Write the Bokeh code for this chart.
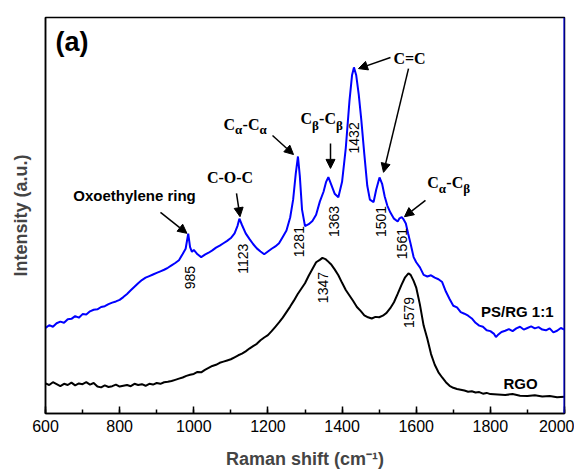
import math
from bokeh.plotting import figure
from bokeh.models import (Range1d, SingleIntervalTicker, FixedTicker, Label, Arrow,
                          NormalHead, Span, ColumnDataSource)
from bokeh.embed import file_html
from bokeh.resources import INLINE

# ---------------- data ----------------
ps_rg_shift = [600, 610, 620, 630, 640, 650, 660, 670, 680, 690, 700, 710, 720, 730, 740,
               750, 760, 770, 780, 790, 800, 810, 820, 830, 840, 850, 860, 870, 880, 890,
               900, 910, 920, 930, 940, 950, 960, 970, 978, 985, 990, 995, 1000, 1010, 1020,
               1030, 1040, 1050, 1060, 1070, 1080, 1090, 1100, 1110, 1118, 1123, 1130, 1140,
               1150, 1160, 1170, 1180, 1190, 1200, 1210, 1220, 1230, 1240, 1250, 1260, 1268,
               1275, 1281, 1286, 1292, 1300, 1310, 1320, 1330, 1340, 1350, 1357, 1363, 1370,
               1380, 1390, 1400, 1410, 1420, 1427, 1432, 1438, 1445, 1452, 1460, 1468, 1475,
               1485, 1492, 1501, 1508, 1515, 1522, 1530, 1540, 1550, 1555, 1561, 1566, 1572,
               1578, 1585, 1593, 1600, 1610, 1620, 1630, 1640, 1650, 1660, 1670, 1680, 1690,
               1700, 1710, 1720, 1730, 1740, 1750, 1760, 1770, 1780, 1790, 1800, 1810, 1815,
               1820, 1830, 1840, 1850, 1860, 1870, 1880, 1890, 1900, 1910, 1920, 1930, 1940,
               1950, 1960, 1970, 1980, 1990, 2000]
ps_rg_intensity = [21.6, 22.3, 21.9, 22.8, 23.2, 22.9, 23.8, 23.9, 24.6, 24.2, 25.1, 25.0, 25.8,
                   26.2, 26.3, 26.9, 27.1, 27.6, 28.0, 28.3, 28.7, 29.4, 30.2, 31.1, 32.0, 32.9,
                   33.7, 34.3, 34.7, 35.1, 35.5, 35.9, 36.3, 36.8, 37.4, 38.0, 38.7, 40.3, 41.6,
                   45.4, 42.0, 40.8, 41.3, 40.2, 39.5, 40.1, 40.6, 41.2, 41.9, 42.4, 43.0, 43.6,
                   44.3, 45.5, 47.4, 49.2, 47.6, 45.5, 44.1, 42.8, 41.7, 40.9, 40.2, 40.9, 41.6,
                   42.2, 43.0, 44.6, 46.2, 49.5, 54.0, 60.5, 64.9, 60.0, 51.5, 47.3, 47.8, 48.6,
                   50.2, 53.5, 56.0, 58.5, 59.7, 58.0, 55.5, 54.6, 58.5, 67.0, 79.0, 85.5, 87.4,
                   85.5, 80.5, 74.0, 65.5, 57.5, 54.0, 53.4, 56.5, 59.6, 58.0, 54.8, 52.5, 50.8,
                   49.2, 48.5, 49.3, 49.6, 49.0, 48.0, 45.5, 42.8, 39.5, 38.2, 36.9, 35.0, 34.6,
                   34.9, 34.3, 33.9, 33.2, 30.8, 28.9, 27.2, 26.8, 25.6, 25.2, 24.7, 24.0, 22.9,
                   22.2, 21.9, 21.0, 20.8, 20.1, 19.3, 19.8, 20.6, 20.9, 21.3, 20.8, 21.5, 21.9,
                   21.2, 21.6, 22.0, 21.5, 21.8, 21.2, 21.0, 21.5, 20.5, 20.9, 21.6, 21.2]

rgo_shift = [600, 610, 620, 630, 640, 650, 660, 670, 680, 690, 700, 710, 720, 730, 740, 750,
             760, 770, 780, 790, 800, 810, 820, 830, 840, 850, 860, 870, 880, 890, 900, 910,
             920, 930, 940, 950, 960, 970, 980, 990, 1000, 1010, 1020, 1030, 1040, 1050, 1060,
             1070, 1080, 1090, 1100, 1110, 1120, 1130, 1140, 1150, 1160, 1170, 1180, 1190,
             1200, 1210, 1220, 1230, 1240, 1250, 1260, 1270, 1280, 1290, 1300, 1310, 1320,
             1330, 1340, 1347, 1355, 1360, 1370, 1380, 1390, 1400, 1410, 1420, 1430, 1440,
             1450, 1460, 1470, 1480, 1490, 1500, 1510, 1520, 1530, 1540, 1550, 1560, 1570,
             1579, 1585, 1593, 1600, 1610, 1620, 1630, 1640, 1650, 1660, 1670, 1680, 1690,
             1700, 1710, 1720, 1730, 1740, 1750, 1760, 1770, 1780, 1790, 1800, 1820, 1840,
             1860, 1880, 1900, 1920, 1940, 1960, 1980, 2000]
rgo_intensity = [7.6, 7.2, 7.9, 7.4, 6.9, 7.5, 7.2, 7.8, 7.1, 7.6, 7.4, 7.9, 7.3, 7.7, 6.8, 6.6,
                 7.1, 6.7, 6.9, 7.3, 6.8, 7.0, 7.2, 6.9, 7.5, 7.2, 7.4, 7.0, 7.5, 7.3, 7.7, 7.5,
                 7.9, 8.0, 8.2, 8.5, 8.8, 9.1, 9.5, 9.8, 10.0, 10.5, 10.4, 11.0, 11.5, 12.0, 12.3,
                 12.8, 13.1, 13.4, 13.7, 14.2, 14.7, 15.1, 15.7, 16.4, 17.0, 17.6, 18.5, 19.2,
                 19.8, 20.8, 21.9, 23.0, 24.2, 25.6, 27.0, 28.5, 30.1, 31.5, 32.9, 34.8, 36.5,
                 38.2, 38.8, 39.3, 39.0, 38.6, 37.7, 36.4, 34.9, 33.0, 31.2, 29.8, 28.4, 26.9,
                 25.9, 24.8, 24.3, 24.0, 24.4, 24.3, 24.7, 25.4, 26.6, 28.1, 30.2, 32.4, 34.4,
                 35.4, 35.0, 33.5, 31.8, 27.5, 22.2, 18.9, 15.0, 12.3, 10.4, 9.1, 7.9, 7.0,
                 6.5, 6.2, 6.0, 5.8, 5.5, 5.6, 5.3, 5.4, 5.0, 5.2, 4.9, 4.8, 4.7,
                 4.9, 4.5, 4.4, 4.6, 4.3, 4.4, 4.1, 4.2]

x_ticks_interval = 200
series_names = ["PS/RG 1:1", "RGO"]
peak_labels = ["985", "1123", "1281", "1363", "1432", "1501", "1561", "1347", "1579"]

# ---------------- figure ----------------
p = figure(width=574, height=474, output_backend="svg", toolbar_location=None,
           x_range=Range1d(600, 2000), y_range=Range1d(0, 100),
           min_border_left=45, min_border_right=10, min_border_top=17, min_border_bottom=61)
p.xgrid.visible = False
p.ygrid.visible = False
p.outline_line_color = "black"
p.outline_line_width = 1.5
p.background_fill_color = "white"
p.border_fill_color = "white"

BLUE = "#0000ff"
src_ps = ColumnDataSource(dict(x=ps_rg_shift, y=ps_rg_intensity))
src_rgo = ColumnDataSource(dict(x=rgo_shift, y=rgo_intensity))
p.line("x", "y", source=src_rgo, line_color="black", line_width=2)
p.line("x", "y", source=src_ps, line_color=BLUE, line_width=2)

p.add_layout(Span(location=2000, dimension="height", line_color=BLUE, line_width=2))

SANS = "Liberation Sans"
SERIF = "Liberation Serif"

xa = p.xaxis[0]
xa.ticker = SingleIntervalTicker(interval=x_ticks_interval, num_minor_ticks=2)
xa.major_tick_in = 7
xa.major_tick_out = 0
xa.minor_tick_in = 4
xa.minor_tick_out = 0
xa.axis_line_width = 1.5
xa.major_tick_line_width = 1.5
xa.minor_tick_line_width = 1.5
xa.major_label_text_font = SANS
xa.major_label_text_font_size = "16px"
xa.major_label_text_color = "black"
xa.major_label_standoff = 6
xa.axis_label = "Raman shift (cm\u207b\u00b9)"
xa.axis_label_text_font = SANS
xa.axis_label_text_font_size = "18px"
xa.axis_label_text_font_style = "bold"
xa.axis_label_standoff = 14

ya = p.yaxis[0]
ya.ticker = FixedTicker(ticks=[])
ya.major_tick_in = 0
ya.major_tick_out = 0
ya.minor_tick_in = 0
ya.minor_tick_out = 0
ya.major_label_text_font_size = "0px"
ya.axis_line_width = 1.5
ya.axis_label = "Intensity (a.u.)"
ya.axis_label_text_font = SANS
ya.axis_label_text_font_size = "18px"
ya.axis_label_text_font_style = "bold"
ya.axis_label_standoff = 15

# ---------------- annotations ----------------
def lab(text, x, y, font=SANS, size="15px", style="bold", align="center",
        baseline="middle", angle=0.0, x_offset=0):
    p.add_layout(Label(x=x, y=y, text=text, text_font=font, text_font_size=size,
                       text_font_style=style, text_align=align, text_baseline=baseline,
                       angle=angle, x_offset=x_offset, text_color="black"))

lab("(a)", 627, 93.9, size="27px", align="left")
lab("Oxoethylene ring", 840, 55.1, size="15px")
lab("C-O-C", 1097.7, 59.6, font=SERIF, size="16px")
lab("C=C", 1582, 89.6, font=SERIF, size="16px")


def rich(x0, y_main, y_sub, parts):
    for txt, sub, dx in parts:
        lab(txt, x0, y_sub if sub else y_main, font=SERIF,
            size="13px" if sub else "16px", align="left", x_offset=dx)


rich(1080, 73.0, 71.7, [("C", False, 0), ("\u03b1", True, 11.5), ("-", False, 19),
                        ("C", False, 24.5), ("\u03b1", True, 36)])
rich(1288, 74.5, 72.7, [("C", False, 0), ("\u03b2", True, 11.5), ("-", False, 18.5),
                        ("C", False, 24), ("\u03b2", True, 35.5)])
rich(1630, 58.3, 56.8, [("C", False, 0), ("\u03b1", True, 11.5), ("-", False, 19),
                        ("C", False, 24.5), ("\u03b2", True, 36)])

# rotated peak positions
peak_pos = [(991.1, 34.3), (1132.8, 39.1), (1282.5, 43.4), (1376.9, 48.5), (1433.5, 69.6),
            (1503.7, 48.5), (1563.0, 42.9), (1349.9, 31.8), (1579.2, 25.5)]
for t, (px_, py_) in zip(peak_labels, peak_pos):
    lab(t, px_, py_, size="14px", style="normal", angle=math.pi / 2)

lab(series_names[0], 1970.3, 25.8, size="15px", align="right")
lab(series_names[1], 1881.3, 7.7, size="15px")

arrows = [((910.2, 50.8), (981.5, 45.5)),
          ((1115.2, 55.6), (1124.7, 49.7)),
          ((1212.3, 70.2), (1269.0, 65.4)),
          ((1368.8, 68.2), (1368.8, 61.9)),
          ((1530.6, 89.9), (1444.3, 87.1)),
          ((1579.2, 87.1), (1511.8, 60.9)),
          ((1625.0, 53.8), (1568.4, 49.7))]
for (xs, ys), (xe, ye) in arrows:
    p.add_layout(Arrow(end=NormalHead(size=9, fill_color="black", line_color="black"),
                       x_start=xs, y_start=ys, x_end=xe, y_end=ye,
                       line_color="black", line_width=1.5))

open("out.html", "w").write(file_html(p, INLINE))
